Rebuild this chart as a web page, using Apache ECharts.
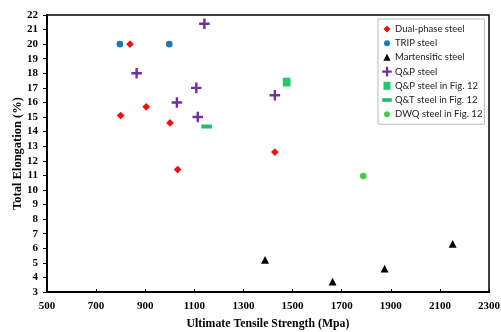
<!DOCTYPE html>
<html>
<head>
<meta charset="utf-8">
<script src="https://cdn.jsdelivr.net/npm/echarts@6/dist/echarts.min.js"></script>
<style>html,body{margin:0;padding:0;background:#fff;}#c{width:501px;height:332px;}</style>
</head>
<body>
<div id="c"></div>
<script>
// Data (Ultimate Tensile Strength MPa, Total Elongation %)
const seriesNames = ['Dual-phase steel','TRIP steel','Martensitic steel','Q&P steel','Q&P steel in Fig. 12','Q&T steel in Fig. 12','DWQ steel in Fig. 12'];
const dualPhase = [[838,20.0],[800,15.1],[904,15.7],[1001,14.6],[1032,11.4],[1428,12.6]];
const trip = [[797,20.0],[998,20.0]];
const martensitic = [[1388,5.2],[1663,3.7],[1875,4.6],[2152,6.3]];
const qp = [[1141,21.4],[865,18.0],[1108,17.0],[1029,16.0],[1114,15.0],[1428,16.5]];
const qpFig12 = [[1476,17.4]];
const qtFig12 = [[1150,14.35]];
const dwqFig12 = [[1788,10.95]];
const xTicks = {min:500, max:2300, step:200};
const yTicks = {min:3, max:22, step:1};

const B = 'M0,0 M10,10 ';
const sym = {
  diamond: 'path://' + B + 'M5,1.5 L8.5,5 L5,8.5 L1.5,5 Z',
  circle: 'path://' + B + 'M2,5 A3,3 0 1,1 8,5 A3,3 0 1,1 2,5 Z',
  triangle: 'path://' + B + 'M5,1.4 L8.6,8.4 L1.4,8.4 Z',
  plus: 'path://' + B + 'M3.9,0.2 L6.1,0.2 L6.1,3.9 L9.8,3.9 L9.8,6.1 L6.1,6.1 L6.1,9.8 L3.9,9.8 L3.9,6.1 L0.2,6.1 L0.2,3.9 L3.9,3.9 Z',
  square: 'path://' + B + 'M1.5,1 L8.5,1 L8.5,9 L1.5,9 Z',
  dash: 'path://' + B + 'M0.2,3.2 L9.8,3.2 L9.8,6.8 L0.2,6.8 Z'
};
const colors = ['#ee1111','#1f77b4','#000000','#7030a0','#22c96a','#1fbf6a','#44cc44'];
const datasets = [dualPhase, trip, martensitic, qp, qpFig12, qtFig12, dwqFig12];
const symbols = [sym.diamond, sym.circle, sym.triangle, sym.plus, sym.square, sym.dash, sym.circle];

const chart = echarts.init(document.getElementById('c'), null, {renderer:'canvas'});
chart.setOption({
  backgroundColor: '#fff',
  animation: false,
  grid: {left:47, right:12, top:15, bottom:40, show:true, borderColor:'#000', borderWidth:1.5, backgroundColor:'transparent', containLabel:false, outerBoundsMode:'none'},
  legend: {
    orient:'vertical', left:378, top:19,
    data: seriesNames,
    itemWidth:10, itemHeight:10, itemGap:4.2,
    padding:[5,2,5,4],
    borderColor:'#bbbbbb', borderWidth:1, backgroundColor:'#fff',
    textStyle:{fontFamily:'Lato', fontSize:9.5, color:'#222', padding:[0,0,0,-2]}
  },
  xAxis: {
    type:'value', min:xTicks.min, max:xTicks.max, interval:xTicks.step,
    name:'Ultimate Tensile Strength (Mpa)', nameLocation:'middle', nameGap:26, nameMoveOverlap:false,
    nameTextStyle:{fontFamily:'Liberation Serif', fontWeight:'bold', fontSize:11.8, color:'#000'},
    axisLine:{show:true, onZero:false, lineStyle:{color:'#000', width:2}},
    axisTick:{show:true, inside:true, length:3, lineStyle:{color:'#000', width:1}},
    axisLabel:{fontFamily:'Liberation Serif', fontWeight:'bold', fontSize:11, color:'#000', margin:9, formatter:(v)=>String(v)},
    splitLine:{show:false}
  },
  yAxis: {
    type:'value', min:yTicks.min, max:yTicks.max, interval:yTicks.step,
    name:'Total Elongation (%)', nameLocation:'middle', nameGap:23, nameMoveOverlap:false,
    nameTextStyle:{fontFamily:'Liberation Serif', fontWeight:'bold', fontSize:12.5, color:'#000'},
    axisLine:{show:true, onZero:false, lineStyle:{color:'#000', width:2}},
    axisTick:{show:true, inside:false, length:4, lineStyle:{color:'#000', width:1}},
    axisLabel:{fontFamily:'Liberation Serif', fontWeight:'bold', fontSize:11, color:'#000', margin:9},
    splitLine:{show:false}
  },
  series: seriesNames.map((n,i)=>({
    name:n, type:'scatter', data:datasets[i], symbol:symbols[i], symbolSize:11,
    symbolKeepAspect:true,
    itemStyle:{color:colors[i], opacity:1}
  }))
});
</script>
</body>
</html>
